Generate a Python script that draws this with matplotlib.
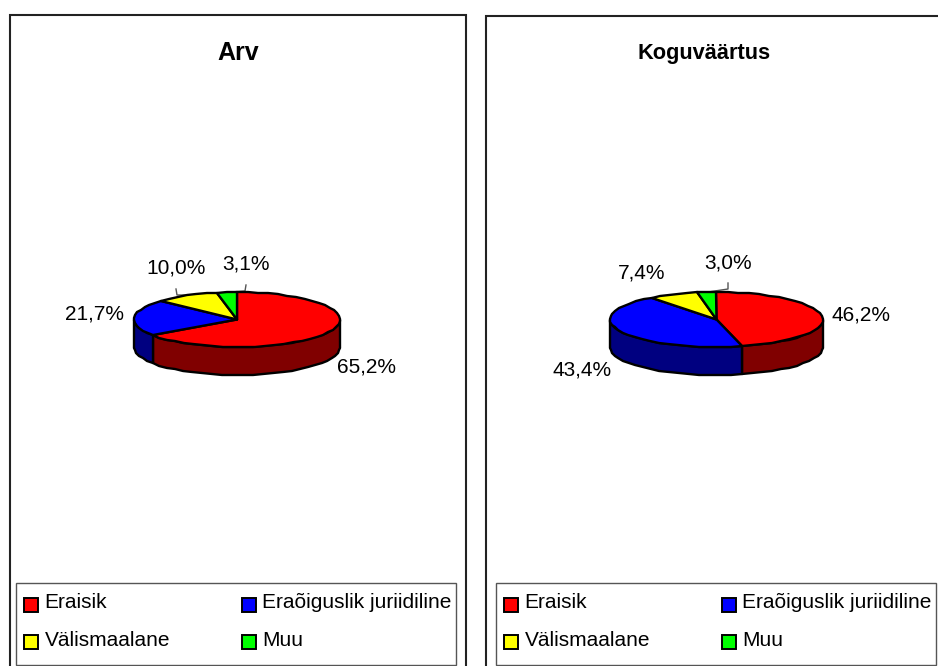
import numpy as np
import matplotlib
matplotlib.use("Agg")
import matplotlib.pyplot as plt
from matplotlib.patches import Polygon, Rectangle

plt.rcParams['font.family'] = ['Liberation Sans', 'DejaVu Sans']

categories = ["Eraisik", "Eraõiguslik juriidiline", "Välismaalane", "Muu"]
arv_values = [65.2, 21.7, 10.0, 3.1]
koguvaartus_values = [46.2, 43.4, 7.4, 3.0]
titles = ["Arv", "Koguväärtus"]

TOP = ["#ff0000", "#0000ff", "#ffff00", "#00ff00"]
SIDE = ["#800000", "#000080", "#808000", "#008000"]
W, H = 938, 666

fig = plt.figure(figsize=(W / 100, H / 100), dpi=100)
ax = fig.add_axes([0, 0, 1, 1])
ax.set_xlim(0, W)
ax.set_ylim(H, 0)
ax.axis("off")


def ell(cx, cy, rx, ry, a0, a1, step=6.0):
    n = max(2, int(np.ceil((a1 - a0) / step)) + 1)
    t = np.radians(np.linspace(a0, a1, n))
    return np.column_stack([np.round(cx + rx * np.sin(t)), np.round(cy - ry * np.cos(t))])


def pie3d(values, cx, cy, rx, ry, depth):
    total = sum(values)
    edges = np.concatenate([[0], np.cumsum(values)]) / total * 360
    for i in range(len(values)):
        a0, a1 = max(edges[i], 90), min(edges[i + 1], 270)
        if a1 > a0:
            up = ell(cx, cy, rx, ry, a0, a1)
            down = up[::-1] + [0, depth]
            ax.add_patch(Polygon(np.vstack([up, down]), closed=True, fc=SIDE[i],
                                 ec="black", lw=1.7, joinstyle="round", zorder=2))
    for i in range(len(values)):
        arc = ell(cx, cy, rx, ry, edges[i], edges[i + 1])
        ax.add_patch(Polygon(np.vstack([[cx, cy], arc]), closed=True, fc=TOP[i],
                             ec="black", lw=1.7, joinstyle="round", zorder=3))


panels = [
    dict(values=arv_values, frame=(10, 14.5, 455.5), legend=(16, 583, 440),
         centre=(237, 319.5, 103, 27.5, 28), title_x=238.5, title_size=18,
         label_xy=[(367, 367), (94, 314), (176, 268), (246, 264)],
         leaders=[[(176, 289), (177, 295), (194, 295)], [(246, 285), (245, 291), (230, 292)]]),
    dict(values=koguvaartus_values, frame=(486, 16, 462), legend=(496, 583, 440),
         centre=(716.5, 319.5, 106.5, 27.5, 28), title_x=704.5, title_size=15.7,
         label_xy=[(860.5, 315), (582, 370), (642, 273), (728, 263)],
         leaders=[[(728, 283), (728, 289), (708, 292)]]),
]

for p, title in zip(panels, titles):
    fx, fy, fw = p["frame"]
    ax.add_patch(Rectangle((fx, fy), fw, H + 10 - fy, fc="white", ec="#222222", lw=1.5, zorder=0))
    ax.text(p["title_x"], 53.5, title, fontsize=p["title_size"], fontweight="bold", ha="center",
            va="center", color="black", zorder=6)
    for pts in p["leaders"]:
        xs, ys = zip(*pts)
        ax.plot(xs, ys, color="#555555", lw=1.0, zorder=2.5)
    pie3d(p["values"], *p["centre"])
    for v, (x, y) in zip(p["values"], p["label_xy"]):
        ax.text(x, y, f"{v:.1f}%".replace(".", ","), fontsize=15, ha="center",
                va="center", color="black", zorder=6)
    lx, ly, lw_ = p["legend"]
    ax.add_patch(Rectangle((lx, ly), lw_, 82, fc="white", ec="#555555", lw=1.0, zorder=1))
    for i, name in enumerate(categories):
        col, row = i % 2, i // 2
        sx = lx + 7.5 + col * 218
        sy = ly + 14.5 + row * 37.5
        ax.add_patch(Rectangle((sx, sy), 14, 14, fc=TOP[i], ec="black", lw=1.4, zorder=2))
        ax.text(sx + 21, sy + 5, name, fontsize=15, ha="left", va="center",
                color="black", zorder=6)

fig.savefig("out.png", dpi=100, facecolor="white")
